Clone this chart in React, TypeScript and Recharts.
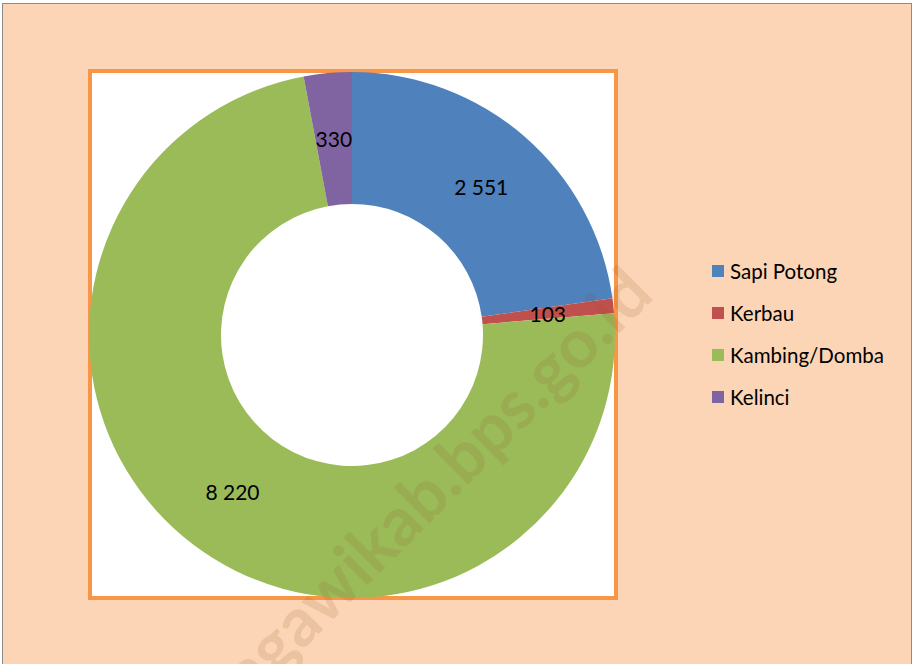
import { PieChart, Pie, Cell } from "recharts";

const names = ["Sapi Potong", "Kerbau", "Kambing/Domba", "Kelinci"];
const values = [2551, 103, 8220, 330];
const colors = ["#4F81BD", "#C0504D", "#9BBB59", "#8064A2"];

const data = names.map((name, i) => ({ name, value: values[i] }));

const FONT = "Lato, 'Open Sans', sans-serif";
const RAD = Math.PI / 180;

const fmt = (v: number) => String(v).replace(/\B(?=(\d{3})+(?!\d))/g, " ");

function renderLabel(props: any) {
  const { cx, cy, midAngle, innerRadius, outerRadius, value } = props;
  const r = (innerRadius + outerRadius) / 2;
  const x = cx + r * Math.cos(-midAngle * RAD);
  const y = cy + r * Math.sin(-midAngle * RAD);
  return (
    <text
      x={x}
      y={y}
      textAnchor="middle"
      dominantBaseline="central"
      fill="#000"
      fontSize={21}
      fontFamily={FONT}
    >
      {fmt(value)}
    </text>
  );
}

export default function App() {
  return (
    <div
      style={{
        position: "fixed",
        left: 0,
        top: 0,
        width: 916,
        height: 664,
        overflow: "hidden",
        background: "#fff"
      }}
    >
      <div
        style={{
          position: "absolute",
          left: 2,
          top: 3,
          width: 910,
          height: 670,
          background: "#FBD5B5",
          border: "1px solid #8c8c8c",
          boxSizing: "border-box"
        }}
      />
      <div
        style={{
          position: "absolute",
          left: 88,
          top: 69,
          width: 530,
          height: 531,
          background: "#fff",
          border: "4px solid #F79646",
          boxSizing: "border-box"
        }}
      />
      <div style={{ position: "absolute", left: 0, top: 0 }}>
        <PieChart
          width={916}
          height={664}
          margin={{ top: 0, right: 0, bottom: 0, left: 0 }}
        >
          <Pie
            data={data}
            dataKey="value"
            nameKey="name"
            cx={352}
            cy={335}
            outerRadius={263}
            innerRadius={131}
            startAngle={90}
            endAngle={-270}
            stroke="none"
            label={renderLabel}
            labelLine={false}
            isAnimationActive={false}
          >
            {data.map((_, i) => (
              <Cell key={i} fill={colors[i]} />
            ))}
          </Pie>
        </PieChart>
      </div>
      <div
        style={{
          position: "absolute",
          left: 712,
          top: 250,
          fontFamily: FONT,
          fontSize: 20.5,
          color: "#000"
        }}
      >
        {names.map((n, i) => (
          <div
            key={n}
            style={{ display: "flex", alignItems: "center", height: 42 }}
          >
            <span
              style={{
                display: "inline-block",
                width: 12,
                height: 12,
                background: colors[i],
                marginRight: 6
              }}
            />
            <span>{n}</span>
          </div>
        ))}
      </div>
      {/* watermark */}
      <div
        style={{
          position: "absolute",
          left: 134,
          top: 444,
          width: 600,
          height: 76,
          lineHeight: "76px",
          textAlign: "center",
          transform: "rotate(-45deg)",
          transformOrigin: "50% 50%",
          fontFamily: FONT,
          fontWeight: 700,
          fontSize: 68,
          color: "rgba(140, 80, 30, 0.13)",
          pointerEvents: "none",
          whiteSpace: "nowrap"
        }}
      >
        ngawikab.bps.go.id
      </div>
    </div>
  );
}
